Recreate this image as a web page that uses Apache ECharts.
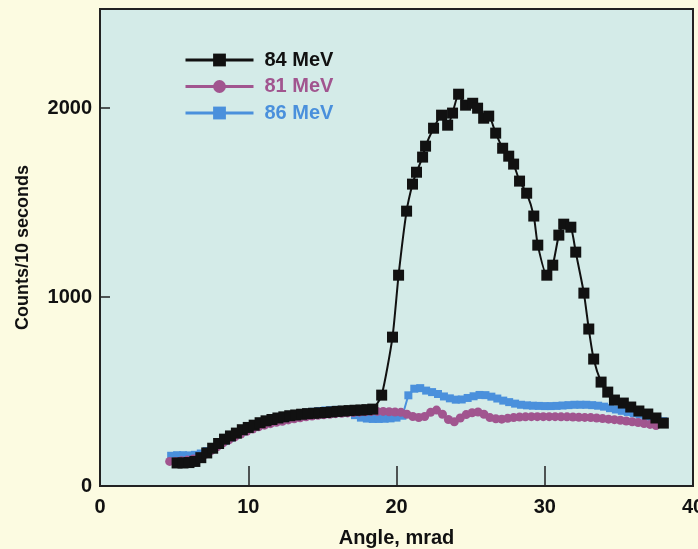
<!DOCTYPE html>
<html>
<head>
<meta charset="utf-8">
<script src="https://cdn.jsdelivr.net/npm/echarts@6/dist/echarts.min.js"></script>
<style>
html,body{margin:0;padding:0;background:#fcfbe1;}
#chart{width:698px;height:549px;}
</style>
</head>
<body>
<div id="chart"></div>
<script>
var xTicks = [0, 10, 20, 30, 40];
var yTicks = [0, 1000, 2000];

var angle84 = [5.2,5.6,6.0,6.4,6.8,7.2,7.6,8.0,8.4,8.8,9.2,9.6,10.0,10.4,10.8,11.2,11.6,12.0,12.4,12.8,13.2,13.6,14.0,14.4,14.8,15.2,15.6,16.0,16.4,16.8,17.2,17.6,18.0,18.4,19.0,19.73,20.14,20.68,21.08,21.35,21.76,21.96,22.5,23.04,23.45,23.78,24.19,24.66,25.14,25.47,25.88,26.22,26.69,27.16,27.57,27.9,28.3,28.78,29.26,29.53,30.14,30.54,30.95,31.28,31.76,32.09,32.64,32.97,33.3,33.8,34.25,34.7,35.3,35.8,36.35,36.95,37.5,38.0];
var counts84 = [122,122,124,130,150,175,200,225,248,265,280,298,310,322,335,345,352,360,366,372,376,380,383,385,387,389,392,395,397,399,401,402,404,407,481,788,1116,1455,1598,1661,1741,1799,1894,1963,1910,1974,2074,2016,2026,2000,1947,1958,1868,1788,1746,1704,1614,1550,1429,1275,1116,1169,1328,1386,1370,1238,1021,831,672,550,497,455,439,418,397,381,360,333];

var angle81 = [4.7,5.1,5.5,5.9,6.3,6.7,7.1,7.5,7.9,8.3,8.7,9.1,9.5,9.9,10.3,10.7,11.1,11.5,11.9,12.3,12.7,13.1,13.5,13.9,14.3,14.7,15.1,15.5,15.9,16.3,16.7,17.1,17.5,17.9,18.3,18.7,19.1,19.5,19.9,20.3,20.7,21.1,21.5,21.9,22.3,22.7,23.1,23.5,23.9,24.3,24.7,25.1,25.5,25.9,26.3,26.7,27.1,27.5,27.9,28.3,28.7,29.1,29.5,29.9,30.3,30.7,31.1,31.5,31.9,32.3,32.7,33.1,33.5,33.9,34.3,34.7,35.1,35.5,35.9,36.3,36.7,37.1,37.5];
var counts81 = [130,130,133,137,143,152,168,188,208,228,245,260,275,290,302,313,322,330,337,343,350,356,361,366,370,374,377,380,383,385,387,389,391,393,395,395,395,393,392,390,380,368,362,368,390,402,380,352,340,360,378,388,392,380,362,356,354,358,362,365,366,367,367,367,367,367,366,366,365,364,363,362,360,357,354,351,348,344,340,336,331,326,320];

var angle86 = [4.8,5.2,5.6,6.0,6.4,6.8,7.2,7.6,8.0,8.4,8.8,9.2,9.6,10.0,10.4,10.8,11.2,11.6,12.0,12.4,12.8,13.2,13.6,14.0,14.4,14.8,15.2,15.6,16.0,16.4,16.8,17.2,17.6,18.0,18.4,18.8,19.2,19.6,20.0,20.4,20.8,21.2,21.6,22.0,22.4,22.8,23.2,23.6,24.0,24.4,24.8,25.2,25.6,26.0,26.4,26.8,27.2,27.6,28.0,28.4,28.8,29.2,29.6,30.0,30.4,30.8,31.2,31.6,32.0,32.4,32.8,33.2,33.6,34.0,34.4,34.8,35.2,35.6,36.0,36.4,36.8,37.2,37.6,38.0];
var counts86 = [160,163,163,162,165,172,185,200,218,238,255,272,288,303,317,330,341,350,358,366,373,379,384,389,393,397,400,402,403,402,392,375,362,357,355,355,356,358,362,372,480,515,518,505,497,487,474,464,457,458,466,475,482,481,473,463,452,444,436,430,427,425,424,423,423,424,426,428,430,430,430,428,425,420,412,405,398,392,385,378,370,362,352,343];

function pairs(xs, ys) {
  var out = [];
  for (var i = 0; i < xs.length; i++) out.push([xs[i], ys[i]]);
  return out;
}

var FONT = '"Liberation Sans", Arial, Helvetica, sans-serif';
var C84 = '#111111', C81 = '#a1558f', C86 = '#4a90dc';

var chart = echarts.init(document.getElementById('chart'), null, {renderer: 'canvas'});
chart.setOption({
  backgroundColor: '#fcfbe1',
  animation: false,
  grid: {
    left: 100, right: 5, top: 9, bottom: 63,
    outerBoundsMode: 'none', containLabel: false,
    show: true, backgroundColor: '#d4ebe8', borderColor: '#222', borderWidth: 2
  },
  legend: {
    orient: 'vertical', left: 179, top: 45,
    itemWidth: 68, itemHeight: 16, itemGap: 6.5,
    lineStyle: {width: 3},
    textStyle: {fontFamily: FONT, fontWeight: 'bold', fontSize: 20, padding: [0, 0, 0, 6]},
    data: [
      {name: '84 MeV', textStyle: {color: C84}},
      {name: '81 MeV', textStyle: {color: C81}},
      {name: '86 MeV', textStyle: {color: C86}}
    ]
  },
  xAxis: {
    type: 'value', min: xTicks[0], max: xTicks[xTicks.length - 1], interval: 10,
    name: 'Angle, mrad', nameLocation: 'middle', nameGap: 42,
    nameTextStyle: {fontFamily: FONT, fontWeight: 'bold', fontSize: 20, color: '#111'},
    axisLine: {show: true, lineStyle: {color: '#222', width: 2}},
    axisTick: {show: true, inside: true, length: 20, lineStyle: {color: '#222', width: 1.5}},
    axisLabel: {fontFamily: FONT, fontWeight: 'bold', fontSize: 20, color: '#111', margin: 11,
      formatter: function (v) { return String(v); }},
    splitLine: {show: false}
  },
  yAxis: {
    type: 'value', min: yTicks[0], max: 2525, interval: 1000,
    name: 'Counts/10 seconds', nameLocation: 'middle', nameGap: 68,
    nameTextStyle: {fontFamily: FONT, fontWeight: 'bold', fontSize: 18, color: '#111'},
    axisLine: {show: true, lineStyle: {color: '#222', width: 2}},
    axisTick: {show: true, inside: true, length: 10, lineStyle: {color: '#222', width: 1.5}},
    axisLabel: {fontFamily: FONT, fontWeight: 'bold', fontSize: 20, color: '#111', margin: 8, showMaxLabel: false,
      formatter: function (v) { return String(v); }},
    splitLine: {show: false}
  },
  series: [
    {
      name: '86 MeV', type: 'line', data: pairs(angle86, counts86),
      symbol: 'rect', symbolSize: 8,
      lineStyle: {color: C86, width: 2}, itemStyle: {color: C86},
      z: 2
    },
    {
      name: '81 MeV', type: 'line', data: pairs(angle81, counts81),
      symbol: 'circle', symbolSize: 9,
      lineStyle: {color: C81, width: 2}, itemStyle: {color: C81},
      z: 3
    },
    {
      name: '84 MeV', type: 'line', data: pairs(angle84, counts84),
      symbol: 'rect', symbolSize: 11, smooth: 0.2,
      lineStyle: {color: C84, width: 2}, itemStyle: {color: C84},
      z: 4
    }
  ]
});
</script>
</body>
</html>
